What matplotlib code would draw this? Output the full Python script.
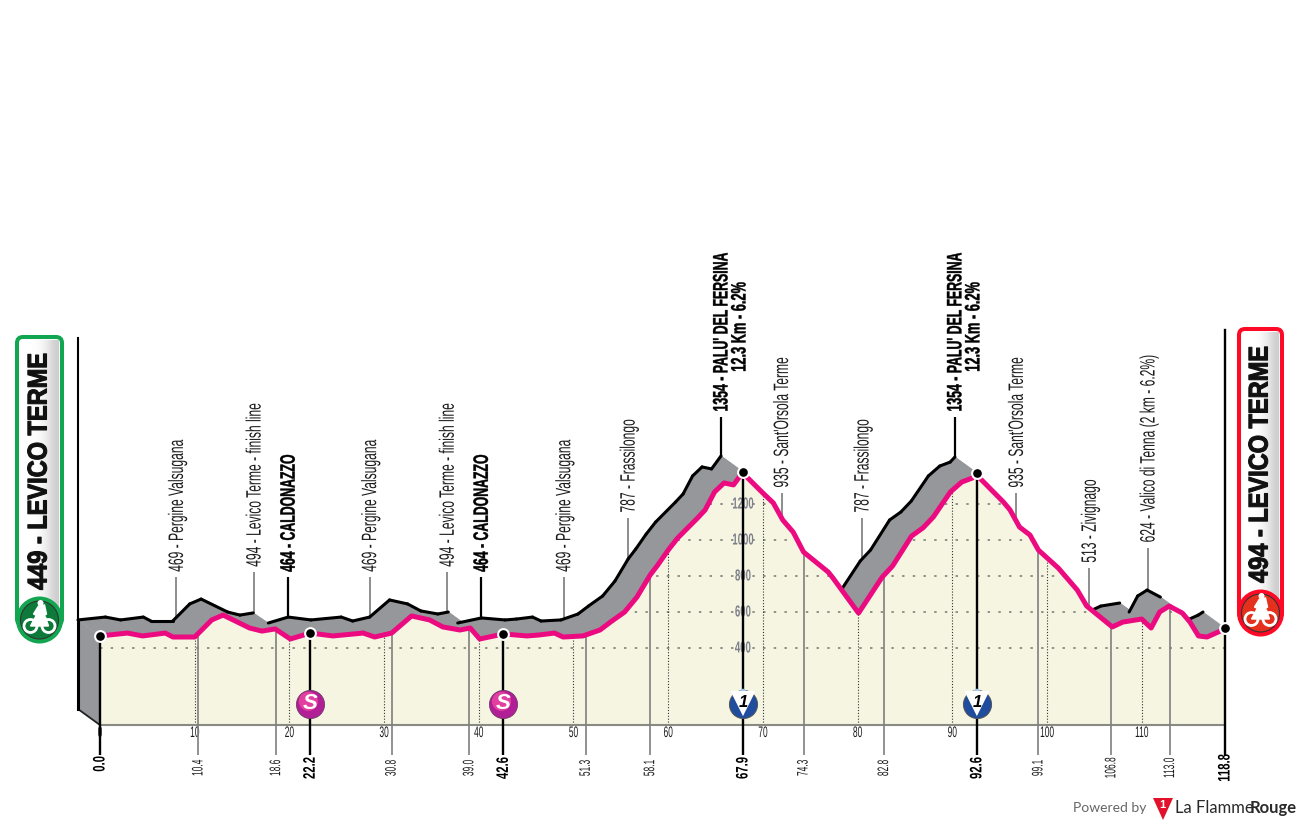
import numpy as np
import matplotlib
matplotlib.use('Agg')
import matplotlib.pyplot as plt
from matplotlib.patches import Circle, FancyBboxPatch, Polygon
from matplotlib.patheffects import AbstractPathEffect
from matplotlib.transforms import Affine2D

plt.rcParams['font.family'] = ['Liberation Sans', 'DejaVu Sans']

# ---------------- data ----------------
profile_km = [0.0, 2.9, 4.5, 6.9, 7.7, 10.0, 11.8, 13.0, 15.8, 17.1,
              18.5, 20.1, 22.2, 24.6, 27.8, 29.0, 30.8, 32.9, 34.8, 36.2,
              38.0, 39.1, 40.1, 42.6, 45.1, 46.3, 48.0, 48.9, 51.0, 52.8,
              53.9, 55.4, 56.7, 58.1, 58.9, 60.0, 61.0, 63.1, 63.9, 64.9,
              65.9, 66.9, 67.9, 68.3, 70.0, 71.1, 72.1, 73.2, 74.3, 76.9,
              77.4, 80.1, 82.6, 83.7, 85.7, 86.9, 88.0, 89.8, 91.0, 92.1,
              92.6, 92.9, 95.4, 96.1, 97.1, 98.2, 99.1, 101.2, 103.2, 104.2,
              106.9, 108.0, 110.0, 111.0, 111.9, 112.9, 114.3, 115.1, 116.0, 116.9,
              118.3, 118.8]
profile_alt = [467, 483, 467, 483, 461, 461, 556, 583, 511, 494,
               506, 450, 483, 467, 483, 461, 483, 578, 556, 517,
               500, 511, 450, 478, 467, 472, 483, 461, 467, 500,
               544, 600, 683, 806, 861, 944, 1011, 1122, 1167, 1267,
               1317, 1306, 1378, 1350, 1261, 1206, 1111, 1044, 933, 822,
               789, 594, 794, 856, 1022, 1067, 1128, 1267, 1322, 1344,
               1372, 1344, 1211, 1167, 1072, 1028, 944, 844, 722, 633,
               517, 544, 561, 511, 600, 633, 594, 544, 467, 461,
               494, 511]

grid_alts = [400, 600, 800, 1000, 1200]
km_ticks = [10, 20, 30, 40, 50, 60, 70, 80, 90, 100, 110]

minor_km = [10.4, 18.6, 30.8, 39.0, 51.3, 58.1, 74.3, 82.8, 99.1, 106.8, 113.0]
major_km = [0.0, 22.2, 42.6, 67.9, 92.6, 118.8]
sprint_km = [22.2, 42.6]
kom_km = [67.9, 92.6]

label_km = [10.4, 18.6, 22.2, 30.8, 39.0, 42.6, 51.3, 58.1, 67.9, 74.3, 82.8, 92.6, 99.1, 106.8, 113.0]
label_txt = ['469 - Pergine Valsugana', '494 - Levico Terme - finish line', '464 - CALDONAZZO',
             '469 - Pergine Valsugana', '494 - Levico Terme - finish line', '464 - CALDONAZZO',
             '469 - Pergine Valsugana', '787 - Frassilongo', "1354 - PALU' DEL FERSINA",
             "935 - Sant'Orsola Terme", '787 - Frassilongo', "1354 - PALU' DEL FERSINA",
             "935 - Sant'Orsola Terme", '513 - Zivignago', '624 - Valico di Tenna (2 km - 6.2%)']
label_bold = [False, False, True, False, False, True, False, False, True, False, False, True, False, False, False]
label_foot = [794, 822, 794, 794, 822, 794, 794, 1122, 1683, 1261, 1122, 1683, 1261, 844, 956]
climb_note = '12.3 Km - 6.2%'

start_name = '449 - LEVICO TERME'
finish_name = '494 - LEVICO TERME'

# ---------------- layout ----------------
W, H = 1300, 825
KM_X0, KM_SCALE = 100, 1125 / 118.8
ALT_SCALE = 0.18
BASE_ALT = -28
TICK_ALT = -194
SHIFT_KM, SHIFT_ALT = -22 / KM_SCALE, 16 / ALT_SCALE

PINK = '#EC0A80'
GREY = '#96979A'
CREAM = '#F5F5E2'
TEXT = '#1c1c1c'


def alt_at_px(py):
    return 400 + (648 - py) / ALT_SCALE


# squeezes a text along its own direction, the original lettering is very condensed
class Squeeze(AbstractPathEffect):
    def __init__(self, sx, anchor=0.0, weight=0.0):
        super().__init__()
        self.sx, self.anchor, self.weight = sx, anchor, weight

    def draw_path(self, renderer, gc, tpath, affine, rgbFace=None):
        ext = tpath.get_extents()
        p = ext.x0 + self.anchor * ext.width
        squeeze = Affine2D().translate(-p, 0).scale(self.sx, 1).translate(p, 0)
        gc0 = renderer.new_gc()
        gc0.copy_properties(gc)
        if self.weight:
            gc0.set_linewidth(self.weight)
            gc0.set_foreground(rgbFace)
        renderer.draw_path(gc0, tpath, squeeze + affine, rgbFace)
        gc0.restore()


fig = plt.figure(figsize=(W / 100, H / 100), dpi=100, facecolor='white')
ax = fig.add_axes([0, 0, 1, 1])
ax.set_xlim(-KM_X0 / KM_SCALE, (W - KM_X0) / KM_SCALE)
ax.set_ylim(alt_at_px(H), alt_at_px(0))
ax.axis('off')

km = np.array(profile_km)
alt = np.array(profile_alt)

# leaders behind the profile
for k, foot, bold in zip(label_km, label_foot, label_bold):
    x = k + SHIFT_KM
    ax.plot([x, x], [np.interp(k, km, alt) + SHIFT_ALT - 20, foot],
            color='black' if bold else '#7a7a7a', lw=1.6 if bold else 1.2, zorder=1, solid_capstyle='butt')

# ribbon between back edge and front edge
for i in range(len(km) - 1):
    quad = [(km[i], alt[i]), (km[i + 1], alt[i + 1]),
            (km[i + 1] + SHIFT_KM, alt[i + 1] + SHIFT_ALT), (km[i] + SHIFT_KM, alt[i] + SHIFT_ALT)]
    ax.add_patch(Polygon(quad, closed=True, fc=GREY, ec=GREY, lw=0.5, zorder=2))
    # steep descents have no black edge
    slope_px = -(alt[i + 1] - alt[i]) * ALT_SCALE / ((km[i + 1] - km[i]) * KM_SCALE)
    if slope_px < 0.6:
        ax.plot([km[i] + SHIFT_KM, km[i + 1] + SHIFT_KM], [alt[i] + SHIFT_ALT, alt[i + 1] + SHIFT_ALT],
                color='black', lw=2.2, zorder=3, solid_capstyle='round')

# left wall
ax.add_patch(Polygon([(km[0], alt[0]), (km[0], BASE_ALT), (km[0] + SHIFT_KM, BASE_ALT + SHIFT_ALT),
                      (km[0] + SHIFT_KM, alt[0] + SHIFT_ALT)], closed=True, fc=GREY, ec='none', zorder=2))
ax.plot([km[0], km[0] + SHIFT_KM], [BASE_ALT, BASE_ALT + SHIFT_ALT], color='#222222', lw=1.3, zorder=3)
ax.plot([km[0] + SHIFT_KM] * 2, [BASE_ALT + SHIFT_ALT, alt[0] + SHIFT_ALT], color='black', lw=2.2, zorder=3)
ax.plot([km[0] + SHIFT_KM] * 2, [alt[0] + SHIFT_ALT, alt_at_px(338)], color='black', lw=1.5, zorder=3)

# cream front
front = Polygon(list(zip(km, alt)) + [(km[-1], BASE_ALT), (km[0], BASE_ALT)], closed=True,
                fc=CREAM, ec='none', zorder=4)
ax.add_patch(front)

for g in grid_alts:
    line, = ax.plot([km[0], km[-1]], [g, g], color='#77776f', lw=1.1, dashes=(1.6, 5.4), zorder=5)
    line.set_clip_path(front)
    ax.text(67.9, g, str(g), ha='center', va='center', fontsize=11.5, fontweight='bold', color='#7d7f8a',
            zorder=5, path_effects=[Squeeze(0.6, 0.5)])

for k in km_ticks:
    line, = ax.plot([k, k], [BASE_ALT, alt_at_px(400)], color='#333333', lw=0.8, dashes=(1, 1.6), zorder=5)
    line.set_clip_path(front)
    ax.text(k, alt_at_px(733), str(k), ha='center', va='center', fontsize=11, color=TEXT,
            path_effects=[Squeeze(0.55, 0.5)])
ax.text(0, alt_at_px(733), '0', ha='center', va='center', fontsize=11, color=TEXT,
        path_effects=[Squeeze(0.55, 0.5)])

ax.plot([km[0], km[-1]], [BASE_ALT, BASE_ALT], color='#8a8a84', lw=1.5, zorder=6)

# distance marks under the profile
for k in minor_km:
    ax.plot([k, k], [np.interp(k, km, alt), TICK_ALT], color='#7f7f7f', lw=1.2, zorder=6, solid_capstyle='butt')
    ax.text(k, alt_at_px(768), '%.1f' % k, rotation=90, ha='center', va='center', fontsize=11, color=TEXT,
            path_effects=[Squeeze(0.55, 0.5)])
for k in major_km:
    ax.plot([k, k], [np.interp(k, km, alt), TICK_ALT], color='black', lw=1.7, zorder=6, solid_capstyle='butt')
    ax.text(k, alt_at_px(764 if k == 0 else 768), '%.1f' % k, rotation=90, ha='center', va='center', fontsize=12,
            fontweight='bold', color='black', path_effects=[Squeeze(0.68, 0.5)])
ax.plot([km[-1], km[-1]], [alt[-1], alt_at_px(330)], color='black', lw=1.7, zorder=6)

ax.plot(km, alt, color=PINK, lw=3.6, zorder=7, solid_joinstyle='round')

dot_km = sprint_km + kom_km + [km[0], km[-1]]
ax.scatter(dot_km, np.interp(dot_km, km, alt), s=60, color='black', edgecolors='white', linewidths=1.5, zorder=8)

# climb and town labels
for k, txt, foot, bold in zip(label_km, label_txt, label_foot, label_bold):
    ax.text(k + SHIFT_KM + 0.1, foot + 28, txt, rotation=90, ha='center', va='bottom', fontsize=15,
            fontweight='bold' if bold else 'normal', color='black' if bold else TEXT,
            path_effects=[Squeeze(0.59 if bold else 0.58, 0.0, 0.3 if bold else 0.0)])
for k in kom_km:
    ax.text(k + SHIFT_KM + 19 / KM_SCALE, alt_at_px(327), climb_note, rotation=90, ha='center', va='center',
            fontsize=15, fontweight='bold', color='black', path_effects=[Squeeze(0.615, 0.5, 0.3)])

# sprint and climb badges
badge_alt = alt_at_px(703.5)
ax.scatter(sprint_km, [badge_alt] * 2, s=410, color='#B11E96', edgecolors='#6d3a66', linewidths=0.6, zorder=9)
ax.scatter(np.array(sprint_km) - 0.2, [badge_alt + 12] * 2, s=190, color='#E2409F', edgecolors='none', zorder=9)
for k in sprint_km:
    ax.text(k, badge_alt, 'S', ha='center', va='center', fontsize=16, fontweight='bold', fontstyle='italic',
            color='white', zorder=10)
ax.scatter(kom_km, [badge_alt] * 2, s=410, color='#1F4C9C', edgecolors='#555555', linewidths=0.7, zorder=9)
ax.scatter(kom_km, [badge_alt + 64] * 2, marker='o', s=22, color='#9CC3EC', edgecolors='none', zorder=10)
ax.scatter(kom_km, [badge_alt] * 2, marker='v', s=330, color='white', edgecolors='none', zorder=10)
for k in kom_km:
    ax.text(k, badge_alt + 8, '1', ha='center', va='center', fontsize=12, fontweight='bold', fontstyle='italic',
            color='black', zorder=11)

# ---------------- pixel overlay for the two banners and the logo ----------------
deco = fig.add_axes([0, 0, 1, 1], facecolor='none')
deco.axis('off')


def banner(x0, x1, y0, y1, ring, disc, name, text_foot):
    cx = (x0 + x1) / 2
    cy = y1 - 1
    box = FancyBboxPatch((x0 + 4, y0 + 4), x1 - x0 - 8, y1 - y0 - 4, boxstyle='round,pad=4,rounding_size=6',
                         fc='white', ec=ring, lw=2.9, zorder=1)
    deco.add_patch(box)
    shade = np.array([[1.0, 1.0, 0.98, 0.92, 0.8]])
    img = deco.imshow(shade, cmap='gray', vmin=0, vmax=1, extent=(x0 + 3, x1 - 3, y1, y0 + 3), aspect='auto',
                      interpolation='bicubic', zorder=2)
    img.set_clip_path(box)
    deco.add_patch(Circle((cx, cy), 23.5, fc=ring, ec='none', zorder=3))
    deco.add_patch(Circle((cx, cy), 19, fc=disc, ec='#333333', lw=0.8, zorder=4))
    # small cyclist
    for wx in (cx - 9, cx + 9):
        deco.add_patch(Circle((wx, cy + 6), 6.5, fc='none', ec='white', lw=2, zorder=5))
    deco.add_patch(Polygon([(cx - 9, cy + 6), (cx - 3, cy - 5), (cx + 6, cy - 3), (cx + 9, cy + 6), (cx + 1, cy + 6)],
                           closed=True, fc='white', ec='white', lw=1, zorder=5))
    deco.add_patch(Polygon([(cx - 6, cy - 6), (cx - 1, cy - 14), (cx + 5, cy - 15), (cx + 7, cy - 6), (cx + 2, cy - 2)],
                           closed=True, fc='white', ec='white', lw=1, zorder=5))
    deco.add_patch(Circle((cx + 1, cy - 17), 3, fc='white', ec='none', zorder=5))
    deco.text(cx, text_foot, name, rotation=90, ha='center', va='bottom', fontsize=19.5, fontweight='bold',
              color='#111111', zorder=6, path_effects=[Squeeze(0.87, 0.0, 0.8)])


banner(17, 62, 337, 621, '#12A650', '#0E7A3A', start_name, 590)
banner(1239, 1282, 329, 614, '#FF0A26', '#E4301C', finish_name, 583)

# logo
deco.text(1073, 808, 'Powered by', ha='left', va='center', fontsize=10, family='Lato', color='#666666')
deco.add_patch(Polygon([(1153, 798), (1173, 798), (1163, 820)], closed=True, fc='#E3102B', ec='none'))
deco.text(1162.5, 805, '1', ha='center', va='center', fontsize=8, fontweight='bold', color='white')
deco.text(1175, 808, 'La Flamme', ha='left', va='center', fontsize=12, family='Lato', color='#2a2a2a')
deco.text(1250, 808, 'Rouge', ha='left', va='center', fontsize=12, family='Lato', fontweight='bold', color='#2a2a2a')

deco.set_xlim(0, W)
deco.set_ylim(H, 0)

fig.savefig('out.png', dpi=100)
